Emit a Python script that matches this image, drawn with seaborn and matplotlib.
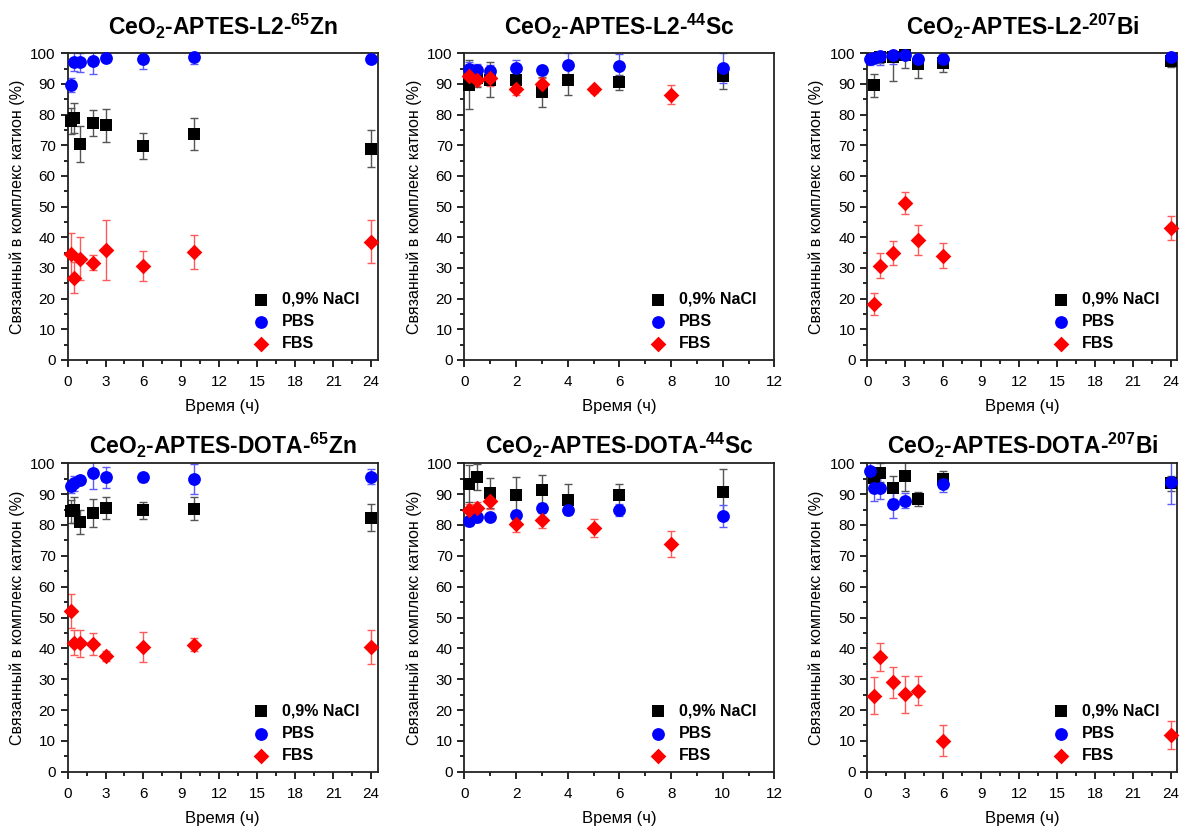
import matplotlib
matplotlib.use("Agg")
import matplotlib.pyplot as plt
from matplotlib.ticker import MultipleLocator
import seaborn as sns

# ---- data ----
# CeO2-APTES-L2-65Zn
L2_ZN_T = [0.25, 0.5, 1, 2, 3, 6, 10, 24]
L2_ZN_NACL = [77.8, 78.9, 70.4, 77.2, 76.5, 69.7, 73.8, 68.9]
L2_ZN_NACL_ERR = [4.2, 5.0, 5.8, 4.2, 5.3, 4.2, 5.2, 6.1]
L2_ZN_PBS = [89.7, 97.3, 97.0, 97.6, 98.4, 98.0, 98.7, 98.1]
L2_ZN_PBS_ERR = [2.3, 3.0, 3.0, 4.5, 1.0, 3.0, 2.3, 1.0]
L2_ZN_FBS = [34.5, 26.8, 33.0, 31.7, 35.8, 30.6, 35.2, 38.6]
L2_ZN_FBS_ERR = [7.0, 5.0, 7.0, 2.5, 9.7, 5.0, 5.5, 7.1]

# CeO2-APTES-L2-44Sc
L2_SC_T = [0.17, 0.5, 1, 2, 3, 4, 6, 10]
L2_SC_NACL = [89.8, 92.0, 91.4, 91.4, 87.4, 91.4, 90.5, 92.5]
L2_SC_NACL_ERR = [8.0, 3.0, 5.8, 3.8, 5.0, 5.0, 2.5, 4.0]
L2_SC_PBS = [94.8, 94.4, 94.1, 95.2, 94.4, 96.2, 95.9, 95.2]
L2_SC_PBS_ERR = [2.5, 2.0, 2.0, 2.5, 1.0, 4.0, 4.0, 5.0]
L2_SC_FBS_T = [0.17, 0.5, 1, 2, 3, 5, 8]
L2_SC_FBS = [92.5, 91.4, 91.9, 88.5, 90.1, 88.2, 86.5]
L2_SC_FBS_ERR = [2.0, 2.0, 2.5, 2.0, 2.0, 1.0, 3.0]

# CeO2-APTES-L2-207Bi
L2_BI_NACL_T = [0.5, 1, 2, 3, 4, 6, 24]
L2_BI_NACL = [89.5, 98.7, 98.7, 99.6, 96.5, 96.8, 97.6]
L2_BI_NACL_ERR = [3.8, 2.0, 7.8, 4.5, 4.5, 3.0, 2.0]
L2_BI_PBS_T = [0.25, 0.5, 1, 2, 3, 4, 6, 24]
L2_BI_PBS = [98.2, 98.5, 99.2, 99.6, 99.5, 98.2, 98.2, 98.7]
L2_BI_PBS_ERR = [2.0, 1.5, 3.0, 3.0, 1.0, 1.0, 1.0, 1.0]
L2_BI_FBS_T = [0.5, 1, 2, 3, 4, 6, 24]
L2_BI_FBS = [18.3, 30.8, 34.9, 51.2, 39.1, 34.0, 43.1]
L2_BI_FBS_ERR = [3.5, 4.0, 4.0, 3.5, 5.0, 4.0, 4.0]

# CeO2-APTES-DOTA-65Zn
DOTA_ZN_T = [0.25, 0.5, 1, 2, 3, 6, 10, 24]
DOTA_ZN_NACL = [84.4, 84.9, 81.0, 83.9, 85.5, 84.7, 85.3, 82.3]
DOTA_ZN_NACL_ERR = [3.8, 4.2, 3.8, 4.4, 3.5, 2.7, 3.8, 4.4]
DOTA_ZN_PBS = [92.5, 93.5, 94.6, 96.8, 95.5, 95.4, 94.9, 95.7]
DOTA_ZN_PBS_ERR = [2.0, 2.5, 1.0, 5.0, 3.4, 1.4, 5.0, 2.3]
DOTA_ZN_FBS = [52.2, 41.8, 41.6, 41.5, 37.5, 40.5, 41.2, 40.5]
DOTA_ZN_FBS_ERR = [5.5, 4.0, 4.5, 3.5, 1.5, 4.8, 2.0, 5.5]

# CeO2-APTES-DOTA-44Sc
DOTA_SC_T = [0.17, 0.5, 1, 2, 3, 4, 6, 10]
DOTA_SC_NACL = [93.3, 95.5, 90.4, 89.6, 91.5, 88.2, 89.8, 90.8]
DOTA_SC_NACL_ERR = [6.0, 4.3, 4.9, 6.0, 4.7, 5.0, 3.5, 7.3]
DOTA_SC_PBS = [81.3, 82.5, 82.5, 83.3, 85.5, 84.9, 84.9, 83.0]
DOTA_SC_PBS_ERR = [1.5, 1.5, 1.0, 1.5, 1.5, 1.0, 2.0, 3.6]
DOTA_SC_FBS_T = [0.17, 0.5, 1, 2, 3, 5, 8]
DOTA_SC_FBS = [84.9, 85.5, 87.7, 80.3, 81.6, 79.1, 73.7]
DOTA_SC_FBS_ERR = [2.0, 2.0, 2.5, 2.5, 2.5, 3.0, 4.2]

# CeO2-APTES-DOTA-207Bi
DOTA_BI_NACL_T = [0.5, 1, 2, 3, 4, 6, 24]
DOTA_BI_NACL = [95.1, 97.0, 92.1, 96.0, 88.3, 94.8, 93.5]
DOTA_BI_NACL_ERR = [2.0, 3.0, 3.7, 5.0, 2.3, 2.8, 2.5]
DOTA_BI_PBS_T = [0.25, 0.5, 1, 2, 3, 6, 24]
DOTA_BI_PBS = [97.5, 91.9, 91.9, 86.7, 87.9, 93.2, 93.8]
DOTA_BI_PBS_ERR = [3.0, 4.2, 3.5, 4.5, 2.5, 2.5, 7.0]
DOTA_BI_FBS_T = [0.5, 1, 2, 3, 4, 6, 24]
DOTA_BI_FBS = [24.6, 37.3, 29.0, 25.2, 26.3, 10.0, 11.9]
DOTA_BI_FBS_ERR = [6.0, 4.5, 5.0, 6.0, 4.8, 5.0, 4.6]

TITLES = [
    r"CeO$_\mathbf{2}$-APTES-L2-$^\mathbf{65}$Zn",
    r"CeO$_\mathbf{2}$-APTES-L2-$^\mathbf{44}$Sc",
    r"CeO$_\mathbf{2}$-APTES-L2-$^\mathbf{207}$Bi",
    r"CeO$_\mathbf{2}$-APTES-DOTA-$^\mathbf{65}$Zn",
    r"CeO$_\mathbf{2}$-APTES-DOTA-$^\mathbf{44}$Sc",
    r"CeO$_\mathbf{2}$-APTES-DOTA-$^\mathbf{207}$Bi",
]
LABELS = ["0,9% NaCl", "PBS", "FBS"]
YLABEL = "Связанный в комплекс катион (%)"
XLABEL = "Время (ч)"

panels = [
    (L2_ZN_T, L2_ZN_NACL, L2_ZN_NACL_ERR, L2_ZN_T, L2_ZN_PBS, L2_ZN_PBS_ERR, L2_ZN_T, L2_ZN_FBS, L2_ZN_FBS_ERR),
    (L2_SC_T, L2_SC_NACL, L2_SC_NACL_ERR, L2_SC_T, L2_SC_PBS, L2_SC_PBS_ERR, L2_SC_FBS_T, L2_SC_FBS, L2_SC_FBS_ERR),
    (L2_BI_NACL_T, L2_BI_NACL, L2_BI_NACL_ERR, L2_BI_PBS_T, L2_BI_PBS, L2_BI_PBS_ERR, L2_BI_FBS_T, L2_BI_FBS, L2_BI_FBS_ERR),
    (DOTA_ZN_T, DOTA_ZN_NACL, DOTA_ZN_NACL_ERR, DOTA_ZN_T, DOTA_ZN_PBS, DOTA_ZN_PBS_ERR, DOTA_ZN_T, DOTA_ZN_FBS, DOTA_ZN_FBS_ERR),
    (DOTA_SC_T, DOTA_SC_NACL, DOTA_SC_NACL_ERR, DOTA_SC_T, DOTA_SC_PBS, DOTA_SC_PBS_ERR, DOTA_SC_FBS_T, DOTA_SC_FBS, DOTA_SC_FBS_ERR),
    (DOTA_BI_NACL_T, DOTA_BI_NACL, DOTA_BI_NACL_ERR, DOTA_BI_PBS_T, DOTA_BI_PBS, DOTA_BI_PBS_ERR, DOTA_BI_FBS_T, DOTA_BI_FBS, DOTA_BI_FBS_ERR),
]

sns.set_style("ticks")
plt.rcParams['font.family'] = ['Liberation Sans', 'DejaVu Sans']
plt.rcParams['mathtext.fontset'] = 'custom'
plt.rcParams['mathtext.rm'] = 'Liberation Sans'
plt.rcParams['mathtext.bf'] = 'Liberation Sans:bold'
plt.rcParams['text.color'] = 'black'
plt.rcParams['axes.labelcolor'] = 'black'

fig = plt.figure(figsize=(11.81, 8.30), dpi=100)

# axes boxes in figure fractions (left, bottom, width, height)
lefts = [0.0572, 0.3933, 0.7344]
rows = [(0.5663, 0.3695), (0.0702, 0.3716)]
title_pads = [13, 7]

styles = [
    dict(marker='s', color='black', ecolor='#555555', s=64),
    dict(marker='o', color='#0000ff', ecolor='#5a5aff', s=85),
    dict(marker='D', color='#ff0000', ecolor='#ff5a5a', s=64),
]

for i, (data, title) in enumerate(zip(panels, TITLES)):
    r, c = divmod(i, 3)
    ax = fig.add_axes([lefts[c], rows[r][0], 0.2625, rows[r][1]])
    is_sc = (c == 1)
    for k in range(3):
        t, v, e = data[3 * k], data[3 * k + 1], data[3 * k + 2]
        st = styles[k]
        ax.errorbar(t, v, yerr=e, fmt='none', ecolor=st['ecolor'], elinewidth=1,
                    capsize=3, capthick=1, zorder=2)
        sns.scatterplot(x=t, y=v, marker=st['marker'], color=st['color'], s=st['s'],
                        linewidth=0, ax=ax, label=LABELS[k], zorder=3, clip_on=False)

    ax.set_ylim(0, 100)
    ax.yaxis.set_major_locator(MultipleLocator(10))
    ax.yaxis.set_minor_locator(MultipleLocator(5))
    if is_sc:
        ax.set_xlim(0, 12)
        ax.xaxis.set_major_locator(MultipleLocator(2))
        ax.xaxis.set_minor_locator(MultipleLocator(1))
    else:
        ax.set_xlim(0, 24.5)
        ax.xaxis.set_major_locator(MultipleLocator(3))
        ax.xaxis.set_minor_locator(MultipleLocator(1.5))

    ax.tick_params(which='major', direction='out', length=5, width=1.2, labelsize=11, colors='black')
    ax.tick_params(axis='x', which='major', pad=6)
    ax.tick_params(which='minor', direction='out', length=3, width=1.2, colors='black')
    for sp in ax.spines.values():
        sp.set_linewidth(1.3)
        sp.set_color('#222222')

    ax.set_title(title, fontsize=16.5, fontweight='bold', pad=title_pads[r], color='black')
    ax.set_ylabel(YLABEL, fontsize=11.5)
    ax.set_xlabel(XLABEL, fontsize=12, labelpad=7)

    ax.legend(loc='lower right', bbox_to_anchor=(0.97, 0.0), frameon=False,
              handletextpad=0.3, labelspacing=0.45, borderaxespad=0.15,
              prop={'weight': 'bold', 'size': 11.5})

fig.savefig("out.png", dpi=100)
